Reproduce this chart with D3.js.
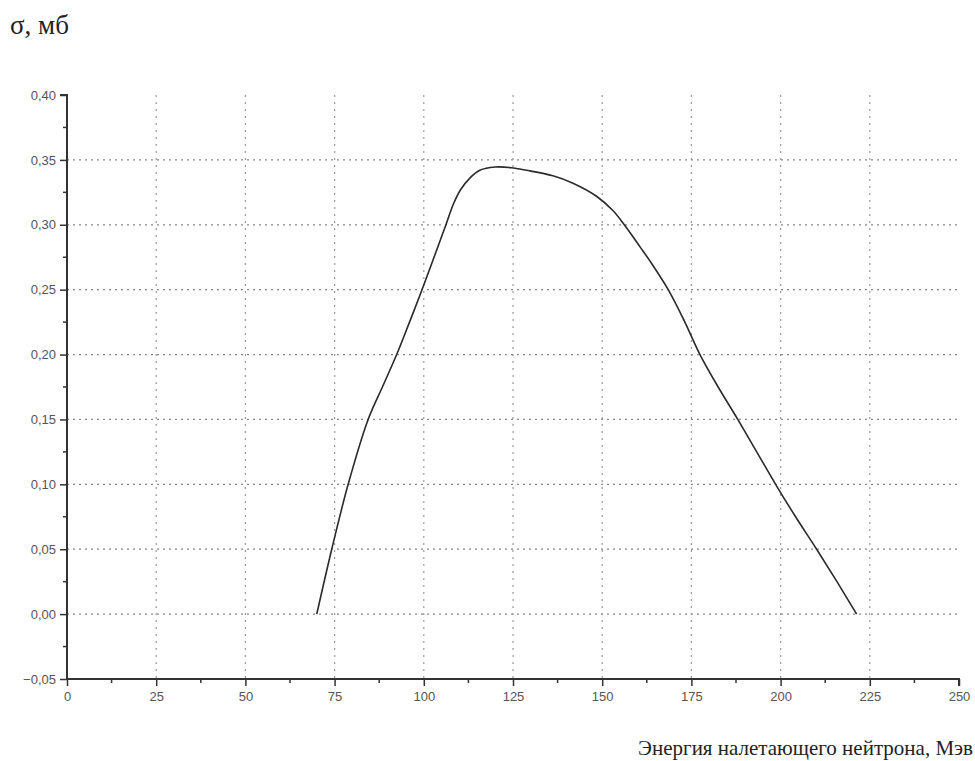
<!DOCTYPE html>
<html>
<head>
<meta charset="utf-8">
<script src="https://cdn.jsdelivr.net/npm/d3@7"></script>
<style>
  body { margin: 0; background: #fff; }
  .tick text { font-family: "Liberation Sans", Arial, sans-serif; font-size: 13px; fill: #555; }
  .title { font-family: "Liberation Serif", "Times New Roman", serif; fill: #222; }
</style>
</head>
<body>
<svg class="chart"></svg>
<script>
// Energy (MeV) vs cross section (mb)
var energy = [70, 74.2, 78.8, 84.4, 88.4, 92.4, 96, 99.5, 102.2, 106.2, 108.3, 110.3, 112.9, 115.7, 120, 124.5,
              128.8, 136.2, 141.8, 148.4, 153, 156.2, 160.6, 163.4, 168.5, 173, 177.4, 182.5, 188, 193.3, 198.6, 204.2, 210.1, 215.8, 221.3];
var sigma  = [0, 0.05, 0.10, 0.15, 0.175, 0.20, 0.225, 0.25, 0.27, 0.30, 0.316, 0.327, 0.336, 0.342, 0.3445, 0.344,
              0.342, 0.3377, 0.332, 0.322, 0.311, 0.30, 0.283, 0.272, 0.25, 0.226, 0.20, 0.175, 0.15, 0.125, 0.10, 0.075, 0.05, 0.025, 0];

var xTicks = [0, 25, 50, 75, 100, 125, 150, 175, 200, 225, 250];
var yTicks = [-0.05, 0, 0.05, 0.10, 0.15, 0.20, 0.25, 0.30, 0.35, 0.40];
var xGrid = [25, 50, 75, 100, 125, 150, 175, 200, 225];
var yGrid = [0, 0.05, 0.10, 0.15, 0.20, 0.25, 0.30, 0.35];

window.onload = function () {
    var width = 975, height = 761;
    var left = 67, right = 959, top = 95, bottom = 679;

    var svg = d3.select("svg.chart").attr("width", width).attr("height", height);

    var x = d3.scaleLinear().domain([0, 250]).range([left, right]);
    var y = d3.scaleLinear().domain([-0.05, 0.40]).range([bottom, top]);

    var fmt = function (d) { return d3.format(".2f")(d).replace(".", ","); };

    // dotted grid
    svg.append("g").selectAll("line").data(yGrid).join("line")
        .attr("x1", left).attr("x2", right)
        .attr("y1", d => y(d)).attr("y2", d => y(d))
        .attr("stroke", "#888").attr("stroke-width", 1.2).attr("stroke-dasharray", "2,4");
    svg.append("g").selectAll("line").data(xGrid).join("line")
        .attr("x1", d => x(d)).attr("x2", d => x(d))
        .attr("y1", top).attr("y2", bottom)
        .attr("stroke", "#999").attr("stroke-width", 1.2).attr("stroke-dasharray", "2,5");

    // minor ticks
    var xMinor = d3.range(12.5, 250, 25), yMinor = d3.range(-0.025, 0.40, 0.05);
    svg.append("g").selectAll("line").data(xMinor).join("line")
        .attr("x1", d => x(d)).attr("x2", d => x(d))
        .attr("y1", bottom).attr("y2", bottom + 4)
        .attr("stroke", "#333").attr("stroke-width", 1.5);
    svg.append("g").selectAll("line").data(yMinor).join("line")
        .attr("x1", left - 4).attr("x2", left)
        .attr("y1", d => y(d)).attr("y2", d => y(d))
        .attr("stroke", "#333").attr("stroke-width", 1.5);

    // axes
    var xAxis = svg.append("g").attr("transform", "translate(0," + bottom + ")")
        .call(d3.axisBottom(x).tickValues(xTicks).tickFormat(d3.format("d")).tickSize(7).tickPadding(6));
    var yAxis = svg.append("g").attr("transform", "translate(" + left + ",0)")
        .call(d3.axisLeft(y).tickValues(yTicks).tickFormat(fmt).tickSize(7).tickPadding(4));
    [xAxis, yAxis].forEach(function (a) {
        a.select(".domain").attr("stroke", "#333").attr("stroke-width", 2);
        a.selectAll(".tick line").attr("stroke", "#333").attr("stroke-width", 1.5);
    });
    xAxis.select(".domain").attr("d", "M" + left + ",0H" + right + "V7");
    yAxis.select(".domain").attr("d", "M-7," + top + "H0V" + bottom);

    // curve
    var pts = energy.map((e, i) => [e, sigma[i]]);
    svg.append("path").datum(pts)
        .attr("fill", "none").attr("stroke", "#2a2a2a").attr("stroke-width", 1.6)
        .attr("d", d3.line().x(d => x(d[0])).y(d => y(d[1])).curve(d3.curveCatmullRom.alpha(0.5)));

    // titles
    svg.append("text").attr("class", "title").attr("x", 10).attr("y", 34)
        .style("font-size", "27px").text("σ, мб");
    svg.append("text").attr("class", "title").attr("x", 973).attr("y", 755)
        .style("font-size", "21px").attr("text-anchor", "end").text("Энергия налетающего нейтрона, Мэв");
};
</script>
</body>
</html>
